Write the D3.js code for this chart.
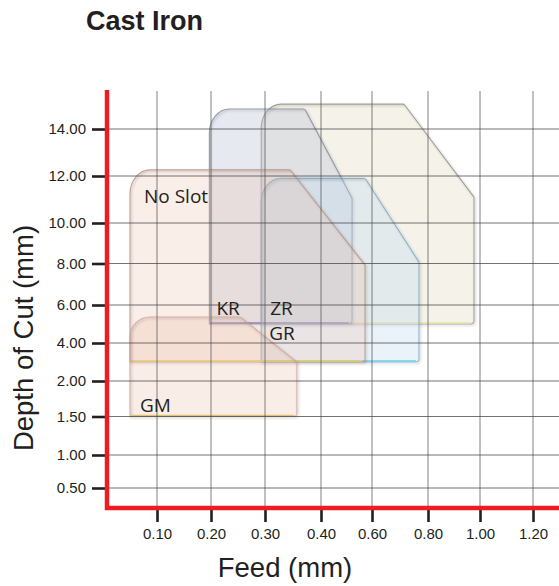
<!DOCTYPE html>
<html>
<head>
<meta charset="utf-8">
<script src="https://cdn.jsdelivr.net/npm/d3@7"></script>
<style>
  body { margin: 0; background: #fff; }
  svg { display: block; }
</style>
</head>
<body>
<svg id="chart" width="559" height="586"></svg>
<script>
// tick values / labels
const feedTicks = [0.10, 0.20, 0.30, 0.40, 0.60, 0.80, 1.00, 1.20];
const depthTicks = [0.50, 1.00, 1.50, 2.00, 4.00, 6.00, 8.00, 10.00, 12.00, 14.00];

// operating regions (drawn back to front)
const regionNames  = ["ZR", "KR", "GR", "No Slot", "GM"];
const feedMin      = [0.293, 0.197, 0.293, 0.05, 0.05];
const feedMax      = [0.977, 0.522, 0.768, 0.573, 0.357];
const depthMin     = [5.0, 5.0, 3.0, 3.0, 1.5];
const depthMax     = [15.06, 14.85, 11.9, 12.26, 5.37];
const chamferFeed  = [0.714, 0.371, 0.573, 0.345, 0.254];
const chamferDepth = [11.1, 11.06, 8.07, 7.93, 3.0];

const svg = d3.select("#chart");
const W = +svg.attr("width");
const axisRed = "#ed1c24";
const ink = "#231f20";

// axes are not linear: each tick sits on its own grid line
const xPos = [157, 211, 265, 321, 372, 428, 480, 533];
const yPos = [488, 455, 416.5, 381, 343, 305, 263.5, 223, 176, 129];
const x = d3.scaleLinear().domain(feedTicks).range(xPos);
const y = d3.scaleLinear().domain(depthTicks).range(yPos);

const plotLeft = 107, plotBottom = 508, plotTop = 91;

const style = {
  "ZR":      { fill: "#e4dfcb", op: 0.42, stroke: "#8e8c7f", base: "#e9e6a8" },
  "KR":      { fill: "#b9c3d6", op: 0.36, stroke: "#7f8699", base: "#7873b3" },
  "GR":      { fill: "#c6dbf0", op: 0.36, stroke: "#7ba5c5", base: "#6fd3e8" },
  "No Slot": { fill: "#e9b9a2", op: 0.24, stroke: "#b48c7c", base: "#e8cf6a" },
  "GM":      { fill: "#e9b9a2", op: 0.26, stroke: "#c9a090", base: "#e3c170" }
};
// label offsets from the region's left edge and top/bottom
const labelAt = {
  "No Slot": { dx: 14, from: "top", dy: 33 },
  "KR": { dx: 7, from: "bottom", dy: -9 },
  "ZR": { dx: 9, from: "bottom", dy: -9 },
  "GR": { dx: 8, from: "bottom", dy: -22 },
  "GM": { dx: 10, from: "bottom", dy: -5 }
};

const defs = svg.append("defs");
const f = defs.append("filter").attr("id", "shadow")
  .attr("x", "-5%").attr("y", "-5%").attr("width", "115%").attr("height", "115%");
f.append("feDropShadow").attr("dx", 1.2).attr("dy", 1.2)
  .attr("stdDeviation", 0.9).attr("flood-color", "#000").attr("flood-opacity", 0.3);

// title
svg.append("text")
  .attr("x", 86).attr("y", 30)
  .attr("font-family", "Liberation Sans, Arial, sans-serif")
  .attr("font-weight", "bold").attr("font-size", 27)
  .attr("fill", ink)
  .text("Cast Iron");

// regions
function regionPath(i) {
  const x0 = x(feedMin[i]), x1 = x(feedMax[i]), xc = x(chamferFeed[i]);
  const y0 = y(depthMin[i]), y1 = y(depthMax[i]), yc = y(chamferDepth[i]);
  const rx = 20, ry = Math.min(24, (y0 - y1) * 0.2), k = 0.45;
  const p = d3.path();
  p.moveTo(x0, y0);
  p.lineTo(x0, y1 + ry);
  p.bezierCurveTo(x0, y1 + ry * k, x0 + rx * k, y1, x0 + rx, y1);
  p.arcTo(xc, y1, x1, yc, 3);
  p.arcTo(x1, yc, x1, y0, 3);
  p.arcTo(x1, y0, x0, y0, 3);
  p.lineTo(x0, y0);
  p.closePath();
  return p.toString();
}

const regions = svg.append("g").attr("class", "regions");
regionNames.forEach((name, i) => {
  const s = style[name];
  const g = regions.append("g");
  g.append("path")
    .attr("d", regionPath(i))
    .attr("fill", s.fill).attr("fill-opacity", s.op);
  // outline gets the small bevel shadow, the fill stays clean
  g.append("path")
    .attr("d", regionPath(i))
    .attr("fill", "none")
    .attr("stroke", s.stroke).attr("stroke-opacity", 0.8).attr("stroke-width", 1.1)
    .attr("filter", "url(#shadow)");
  g.append("line")
    .attr("x1", x(feedMin[i]) + 1).attr("x2", x(feedMax[i]) - 3)
    .attr("y1", y(depthMin[i]) - 1).attr("y2", y(depthMin[i]) - 1)
    .attr("stroke", s.base).attr("stroke-width", 1.5);
});

// grid on top of the translucent regions
const grid = svg.append("g").attr("class", "grid");
grid.selectAll(".vgrid")
  .data(feedTicks).enter().append("line")
  .attr("x1", d => x(d)).attr("x2", d => x(d))
  .attr("y1", plotTop).attr("y2", plotBottom)
  .attr("stroke", "#555").attr("stroke-opacity", 0.75).attr("stroke-width", 1);
grid.selectAll(".hgrid")
  .data(depthTicks).enter().append("line")
  .attr("x1", plotLeft).attr("x2", W)
  .attr("y1", d => y(d)).attr("y2", d => y(d))
  .attr("stroke", "#444").attr("stroke-opacity", 0.75).attr("stroke-width", 1);

// labels
regionNames.forEach((name, i) => {
  const l = labelAt[name];
  const yy = l.from === "top" ? y(depthMax[i]) : y(depthMin[i]);
  svg.append("text")
    .attr("x", x(feedMin[i]) + l.dx).attr("y", yy + l.dy)
    .attr("font-family", "Open Sans, sans-serif").attr("font-size", 19)
    .attr("fill", ink)
    .text(name);
});

// axes
const yAxis = svg.append("g")
  .attr("transform", `translate(${plotLeft},0)`)
  .call(d3.axisLeft(y).tickValues(depthTicks).tickFormat(d3.format(".2f"))
    .tickSizeInner(15).tickSizeOuter(0).tickPadding(6));
yAxis.select(".domain").remove();
yAxis.selectAll(".tick line").attr("stroke", ink).attr("stroke-width", 2.6);
yAxis.selectAll("text")
  .attr("font-family", "Liberation Sans, Arial, sans-serif")
  .attr("font-size", 15).attr("fill", ink);

const xAxis = svg.append("g")
  .attr("transform", `translate(0,${plotBottom})`)
  .call(d3.axisBottom(x).tickValues(feedTicks).tickFormat(d3.format(".2f"))
    .tickSizeInner(14).tickSizeOuter(0).tickPadding(6.5));
xAxis.select(".domain").remove();
xAxis.selectAll(".tick line").attr("stroke", ink).attr("stroke-width", 2.6);
xAxis.selectAll("text")
  .attr("font-family", "Liberation Sans, Arial, sans-serif")
  .attr("font-size", 15).attr("fill", ink);

// red axis frame
svg.append("path")
  .attr("d", `M${plotLeft},90 L${plotLeft},${plotBottom} L${W},${plotBottom}`)
  .attr("fill", "none").attr("stroke", axisRed).attr("stroke-width", 4.5);

// axis titles
svg.append("text")
  .attr("x", 285).attr("y", 577)
  .attr("text-anchor", "middle")
  .attr("font-family", "Liberation Sans, Arial, sans-serif").attr("font-size", 27.5)
  .attr("fill", ink)
  .text("Feed (mm)");

svg.append("text")
  .attr("transform", "translate(33,338) rotate(-90)")
  .attr("text-anchor", "middle")
  .attr("font-family", "Liberation Sans, Arial, sans-serif").attr("font-size", 27.5)
  .attr("fill", ink)
  .text("Depth of Cut (mm)");
</script>
</body>
</html>
